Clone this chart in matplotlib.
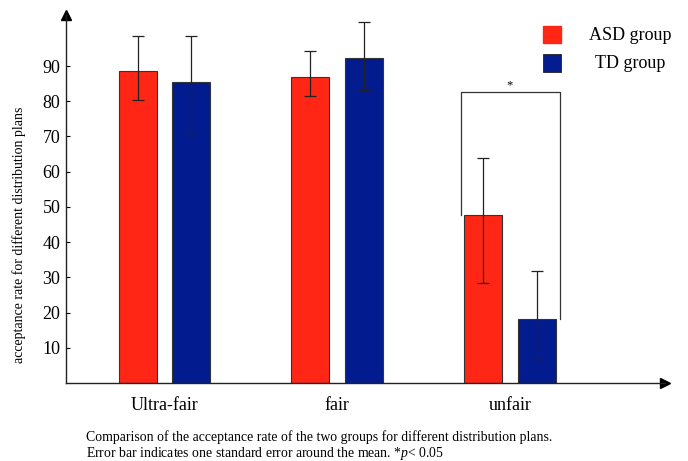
import numpy as np
import matplotlib.pyplot as plt

plt.rcParams['font.family'] = ['Liberation Serif', 'DejaVu Serif']
plt.rcParams['mathtext.fontset'] = 'custom'
plt.rcParams['mathtext.rm'] = 'Liberation Serif'
plt.rcParams['mathtext.it'] = 'Liberation Serif:italic'

plans = ['Ultra-fair', 'fair', 'unfair']
asd_mean = [88.7, 86.9, 47.6]
asd_lo = [80.4, 81.5, 28.4]
asd_hi = [98.6, 94.3, 63.9]
td_mean = [85.6, 92.4, 18.3]
td_lo = [70.5, 83.1, 6.9]
td_hi = [98.6, 102.6, 31.8]
yticks = [10, 20, 30, 40, 50, 60, 70, 80, 90]

red, blue = '#ff2616', '#021c90'
x = np.arange(len(plans))
w, off = 0.22, 0.155

fig = plt.figure(figsize=(6.88, 4.61), dpi=100)
ax = fig.add_axes([0.0959, 0.1692, 0.8706, 0.7983])

asd_err = [np.subtract(asd_mean, asd_lo), np.subtract(asd_hi, asd_mean)]
td_err = [np.subtract(td_mean, td_lo), np.subtract(td_hi, td_mean)]
ax.bar(x - off, asd_mean, w, color=red, edgecolor='#333333', linewidth=0.8,
       yerr=asd_err, error_kw=dict(ecolor='#222222', elinewidth=0.9, capsize=4, capthick=0.9))
ax.bar(x + off, td_mean, w, color=blue, edgecolor='#333333', linewidth=0.8,
       yerr=td_err, error_kw=dict(ecolor='#222222', elinewidth=0.9, capsize=4, capthick=0.9))

# significance bracket on the unfair pair
bl, br, btop = 2 - off - w / 2 - 0.02, 2 + off + w / 2 + 0.025, 82.5
ax.plot([bl, bl, br, br], [asd_mean[2], btop, btop, td_mean[2]], color='#333333', lw=0.9)
ax.text(2, btop + 0.3, '*', ha='center', va='bottom', fontsize=9)

ax.set_xlim(-0.570, 2.897)
ax.set_ylim(0, 104.5)
ax.set_yticks(yticks)
ax.set_yticklabels([str(t) for t in yticks], fontsize=13)
ax.tick_params(axis='y', direction='in', length=3, width=0.8, pad=4)
ax.set_xticks(x)
ax.set_xticklabels(plans, fontsize=13)
ax.tick_params(axis='x', length=0, pad=10)
for s in ['top', 'right']:
    ax.spines[s].set_visible(False)
for s in ['left', 'bottom']:
    ax.spines[s].set_linewidth(1.0)
    ax.spines[s].set_color('#222222')
ax.plot(1, 0, '>', color='black', ms=7, transform=ax.transAxes, clip_on=False)
ax.plot(0, 1, '^', color='black', ms=7, transform=ax.transAxes, clip_on=False)
fig.text(19 / 688, 1 - 235 / 461, 'acceptance rate for different distribution plans',
         rotation=90, ha='center', va='center', fontsize=10)

# legend squares
fig.patches.append(plt.Rectangle((543 / 688, 1 - 43 / 461), 18 / 688, 17 / 461,
                                 transform=fig.transFigure, color=red))
fig.patches.append(plt.Rectangle((543 / 688, 1 - 72 / 461), 18 / 688, 18 / 461,
                                 transform=fig.transFigure, facecolor=blue, edgecolor='#222222', lw=0.6))
fig.text(630 / 688, 1 - 35 / 461, 'ASD group', ha='center', va='center', fontsize=13)
fig.text(630 / 688, 1 - 63 / 461, 'TD group', ha='center', va='center', fontsize=13)

fig.text(86 / 688, 1 - 437 / 461,
         'Comparison of the acceptance rate of the two groups for different distribution plans.',
         ha='left', va='center', fontsize=9.9)
fig.text(86 / 688, 1 - 453 / 461,
         'Error bar indicates one standard error around the mean. *$p$< 0.05',
         ha='left', va='center', fontsize=9.9)

fig.savefig('out.png', dpi=100)
